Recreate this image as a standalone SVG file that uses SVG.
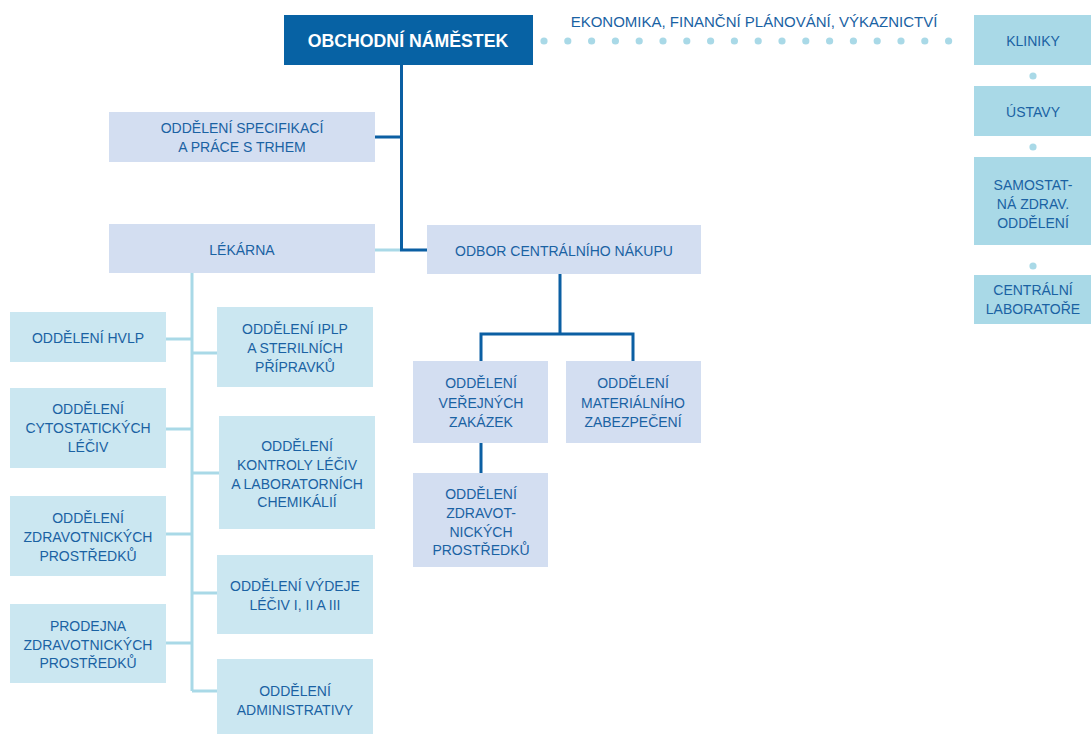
<svg xmlns="http://www.w3.org/2000/svg" width="1091" height="734" viewBox="0 0 1091 734">
<style>
text{font-family:"Liberation Sans",Arial,sans-serif;font-size:14px;fill:#1a62a3;text-anchor:middle}
.title{font-weight:bold;font-size:17.7px;fill:#ffffff}
.note{font-size:15px}
.lav{fill:#d3def1}
.cy{fill:#cbe7f1}
.rb{fill:#a9d9e7}
.dk{stroke:#0b5fa3;stroke-width:3;fill:none}
.lt{stroke:#a9d9e7;stroke-width:3;fill:none}
.dot{fill:#a9d9e7}
</style>
<rect width="1091" height="734" fill="#ffffff"/>
<g id="connectors">
<path class="dk" d="M401.5,65 V250 H427 M375,137 H401.5"/>
<path class="lt" d="M375,250 H400"/>
<path class="dk" d="M560,274 V334 M481,361 V334 H633 V361 M481,443 V473"/>
<path class="lt" d="M192,273 V691 M166,339 H192 M192,353 H217 M166,429 H192 M192,473 H219 M166,534 H192 M192,593 H217 M166,643 H192 M192,691 H217"/>
<g id="dots">
<circle class="dot" cx="544" cy="41" r="3.6"/><circle class="dot" cx="567.8" cy="41" r="3.6"/><circle class="dot" cx="591.6" cy="41" r="3.6"/><circle class="dot" cx="615.4" cy="41" r="3.6"/><circle class="dot" cx="639.2" cy="41" r="3.6"/><circle class="dot" cx="663" cy="41" r="3.6"/><circle class="dot" cx="686.8" cy="41" r="3.6"/><circle class="dot" cx="710.6" cy="41" r="3.6"/><circle class="dot" cx="734.4" cy="41" r="3.6"/><circle class="dot" cx="758.2" cy="41" r="3.6"/><circle class="dot" cx="782" cy="41" r="3.6"/><circle class="dot" cx="805.8" cy="41" r="3.6"/><circle class="dot" cx="829.6" cy="41" r="3.6"/><circle class="dot" cx="853.4" cy="41" r="3.6"/><circle class="dot" cx="877.2" cy="41" r="3.6"/><circle class="dot" cx="901" cy="41" r="3.6"/><circle class="dot" cx="924.8" cy="41" r="3.6"/><circle class="dot" cx="948.6" cy="41" r="3.6"/>
<circle class="dot" cx="1033" cy="76" r="3.6"/><circle class="dot" cx="1033" cy="147" r="3.6"/><circle class="dot" cx="1033" cy="266" r="3.6"/>
</g>
</g>
<text class="note" x="754" y="27">EKONOMIKA, FINANČNÍ PLÁNOVÁNÍ, VÝKAZNICTVÍ</text>
<g id="n-obchodni"><rect x="284" y="15" width="249" height="50" fill="#0762a4"/><text class="title" x="408" y="47">OBCHODNÍ NÁMĚSTEK</text></g>
<g id="n-specifikaci"><rect class="lav" x="109" y="112" width="266" height="50"/><text x="242" y="133">ODDĚLENÍ SPECIFIKACÍ</text><text x="242" y="152">A PRÁCE S TRHEM</text></g>
<g id="n-lekarna"><rect class="lav" x="109" y="224" width="266" height="49"/><text x="242" y="255">LÉKÁRNA</text></g>
<g id="n-odbor"><rect class="lav" x="427" y="225" width="274" height="49"/><text x="564" y="256">ODBOR CENTRÁLNÍHO NÁKUPU</text></g>
<g id="n-verejnych"><rect class="lav" x="413" y="361" width="135" height="82"/><text x="481" y="388">ODDĚLENÍ</text><text x="481" y="408">VEŘEJNÝCH</text><text x="481" y="427">ZAKÁZEK</text></g>
<g id="n-materialniho"><rect class="lav" x="566" y="361" width="135" height="82"/><text x="633" y="388">ODDĚLENÍ</text><text x="633" y="408">MATERIÁLNÍHO</text><text x="633" y="427">ZABEZPEČENÍ</text></g>
<g id="n-zdravot"><rect class="lav" x="413" y="473" width="135" height="94"/><text x="481" y="499">ODDĚLENÍ</text><text x="481" y="518">ZDRAVOT-</text><text x="481" y="537">NICKÝCH</text><text x="481" y="555">PROSTŘEDKŮ</text></g>
<g id="n-hvlp"><rect class="cy" x="10" y="312" width="156" height="50"/><text x="88" y="343">ODDĚLENÍ HVLP</text></g>
<g id="n-iplp"><rect class="cy" x="217" y="307" width="156" height="80"/><text x="295" y="334">ODDĚLENÍ IPLP</text><text x="295" y="353">A STERILNÍCH</text><text x="295" y="372">PŘÍPRAVKŮ</text></g>
<g id="n-cyto"><rect class="cy" x="10" y="388" width="156" height="80"/><text x="88" y="414">ODDĚLENÍ</text><text x="88" y="433">CYTOSTATICKÝCH</text><text x="88" y="452">LÉČIV</text></g>
<g id="n-kontroly"><rect class="cy" x="219" y="416" width="156" height="113"/><text x="297" y="451">ODDĚLENÍ</text><text x="297" y="470">KONTROLY LÉČIV</text><text x="297" y="489">A LABORATORNÍCH</text><text x="297" y="507">CHEMIKÁLIÍ</text></g>
<g id="n-zdravotnickych"><rect class="cy" x="10" y="496" width="156" height="80"/><text x="88" y="523">ODDĚLENÍ</text><text x="88" y="542">ZDRAVOTNICKÝCH</text><text x="88" y="561">PROSTŘEDKŮ</text></g>
<g id="n-vydeje"><rect class="cy" x="217" y="555" width="156" height="79"/><text x="295" y="591">ODDĚLENÍ VÝDEJE</text><text x="295" y="610">LÉČIV I, II A III</text></g>
<g id="n-prodejna"><rect class="cy" x="10" y="604" width="156" height="79"/><text x="88" y="631">PRODEJNA</text><text x="88" y="650">ZDRAVOTNICKÝCH</text><text x="88" y="668">PROSTŘEDKŮ</text></g>
<g id="n-administrativy"><rect class="cy" x="217" y="659" width="156" height="75"/><text x="295" y="696">ODDĚLENÍ</text><text x="295" y="715">ADMINISTRATIVY</text></g>
<g id="n-kliniky"><rect class="rb" x="974" y="15" width="117" height="50"/><text x="1033" y="46">KLINIKY</text></g>
<g id="n-ustavy"><rect class="rb" x="974" y="86" width="117" height="50"/><text x="1033" y="117">ÚSTAVY</text></g>
<g id="n-samostatna"><rect class="rb" x="974" y="157" width="117" height="88"/><text x="1033" y="190">SAMOSTAT-</text><text x="1033" y="209">NÁ ZDRAV.</text><text x="1033" y="228">ODDĚLENÍ</text></g>
<g id="n-centralni"><rect class="rb" x="974" y="275" width="117" height="49"/><text x="1033" y="295">CENTRÁLNÍ</text><text x="1033" y="314">LABORATOŘE</text></g>
</svg>
